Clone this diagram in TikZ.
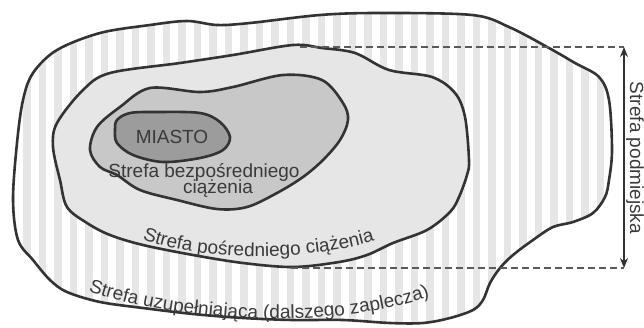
\documentclass[tikz,border=0pt]{standalone}
\usepackage{fontspec}
\setmainfont{Liberation Sans}
\usetikzlibrary{arrows.meta,decorations.text}
\definecolor{outline}{HTML}{333333}
\definecolor{labelgray}{HTML}{3A3A3A}
\definecolor{guidegray}{HTML}{5A5A5A}
\definecolor{stripegray}{HTML}{E6E6E6}
\definecolor{middlegray}{HTML}{E6E6E6}
\definecolor{innergray}{HTML}{C8C8C8}
\definecolor{citygray}{HTML}{9C9C9C}
\newcommand{\zonefont}{\fontsize{19}{16}\selectfont}

\begin{document}
\begin{tikzpicture}
	[x=1pt,y=-1pt,
	 zoneline/.style={line width=2.6pt,draw=outline,line join=round},
	 stripe/.style={fill=stripegray},
	 zonetext/.style={text=labelgray,font=\zonefont,inner sep=0pt},
	 guide/.style={dash pattern=on 7pt off 4pt,line width=1.6pt,draw=guidegray},
	 span/.style={{Stealth[length=10pt,width=8pt]}-{Stealth[length=10pt,width=8pt]},line width=1.5pt,draw=outline},
	 curvedtext/.style={decorate,decoration={text along path,text align=center,
	   text color=labelgray,text={|\zonefont|#1}}}]
	\useasboundingbox (0,0) rectangle (644,327);

	% outer zone with vertical stripes
	\draw[zoneline,fill=white,path picture={
		\foreach \k in {-1,...,40}
			\fill[stripe] ({23.3+15.5*\k},0) rectangle ++(7.3,327);}]
		plot[smooth cycle,tension=0.55] coordinates {
		(23,100) (33,73) (57,50) (100,33) (150,25) (187,21) (217,25) (250,23)
		(320,15) (379,13) (472,15) (509,27) (549,48) (575,63) (599,77) (609,100)
		(612,150) (609,180) (605,197) (593,213) (573,222) (553,227) (533,240)
		(513,255) (500,268) (490,283) (483,300) (473,310) (450,318) (423,323)
		(390,323) (343,320) (293,320) (243,318) (193,314) (143,308) (100,302)
		(67,292) (50,280) (33,260) (18,240) (13,200) (17,143)};

	% middle zone
	\draw[zoneline,fill=middlegray]
		plot[smooth cycle,tension=0.55] coordinates {
		(53,147) (57,123) (83,90) (110,73) (180,63) (233,55) (293,45) (322,48)
		(355,53) (389,70) (432,77) (455,93) (465,117) (469,160) (467,175)
		(459,197) (450,212) (427,230) (393,243) (367,255) (339,262) (293,267)
		(243,263) (193,255) (143,245) (110,235) (87,223) (67,207) (60,180)};

	% inner zone
	\draw[zoneline,fill=innergray]
		plot[smooth cycle,tension=0.55] coordinates {
		(90,150) (97,127) (120,107) (150,88) (200,92) (233,87) (283,75) (322,80)
		(343,103) (348,120) (340,140) (323,160) (303,177) (277,193) (247,207)
		(217,209) (177,200) (140,190) (117,175) (100,167)};

	% city
	\draw[zoneline,fill=citygray]
		plot[smooth cycle,tension=0.55] coordinates {
		(115,130) (117,120) (130,113) (157,112) (200,113) (220,122) (230,137)
		(223,150) (200,158) (163,162) (133,155) (117,143)};

	% extent of the suburban zone
	\coordinate (top) at (300,47);
	\coordinate (bottom) at (291,268);
	\coordinate (arrowtop) at (624,47);
	\coordinate (arrowbottom) at (624,268);
	\draw[guide] (top) -- (arrowtop);
	\draw[guide] (bottom) -- (arrowbottom);
	\draw[span] (arrowtop) -- (arrowbottom);

	% labels
	\node[zonetext,anchor=base] (city) at (172,143) {MIASTO};
	\node[zonetext,anchor=base] (inner) at (204,177) {Strefa bezpośredniego};
	\node[zonetext,anchor=base] (innertwo) at (218,193) {ciążenia};
	\node[zonetext,rotate=-90,anchor=base] (suburb) at (630,158) {Strefa podmiejska};
	\path[curvedtext={Strefa pośredniego ciążenia}]
		(140,238) .. controls (200,262) and (310,262) .. (377,240);
	\path[curvedtext={Strefa uzupełniająca (dalszego zaplecza)}]
		(84,290) .. controls (170,321) and (330,333) .. (434,295);

\end{tikzpicture}
\end{document}
